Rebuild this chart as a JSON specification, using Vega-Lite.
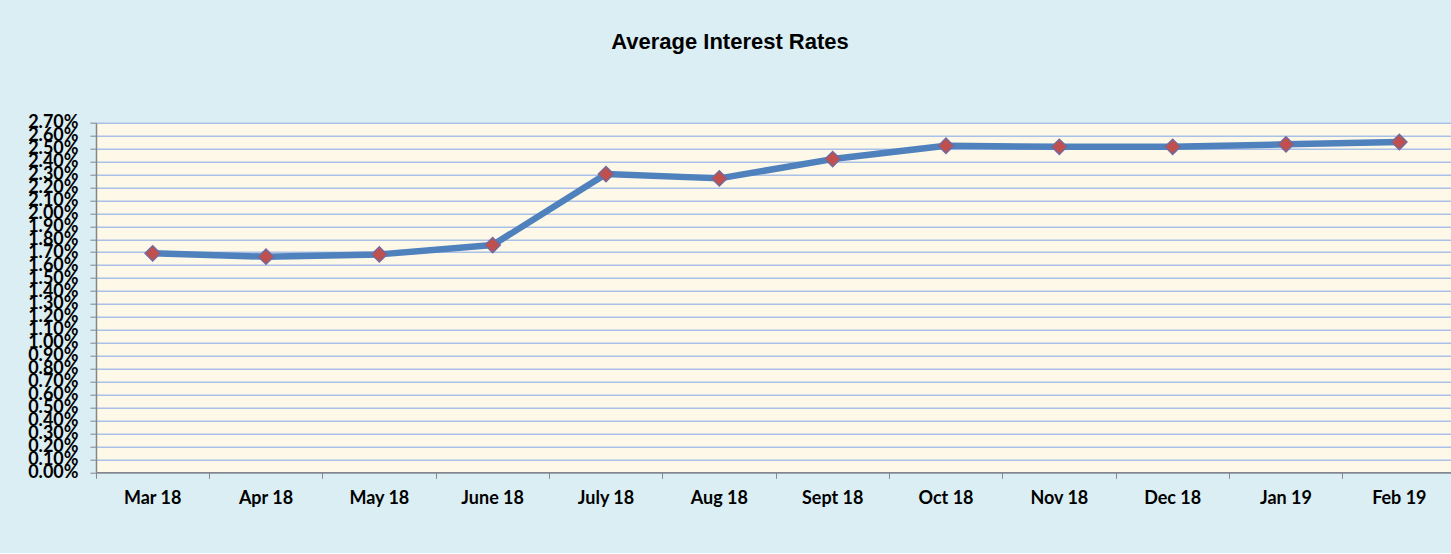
{
  "$schema": "https://vega.github.io/schema/vega-lite/v6.json",
  "autosize": {"type": "none"},
  "padding": {"left": 96, "top": 122.7, "right": 0, "bottom": 81},
  "width": 1360,
  "height": 349.6,
  "background": "#DAEEF3",
  "title": {
    "text": "Average Interest Rates",
    "font": "Liberation Sans",
    "fontSize": 22,
    "fontWeight": "bold",
    "color": "#000000",
    "anchor": "middle",
    "dx": -46,
    "offset": 60
  },
  "config": {
    "view": {"fill": "#FEF8E9", "stroke": null},
    "axis": {
      "labelFont": "Lato",
      "labelFontWeight": "bold",
      "labelColor": "#000000",
      "domainColor": "#868686",
      "tickColor": "#868686",
      "titleFontSize": 0
    }
  },
  "data": {
    "values": [
      {"month": "Mar 18", "rate": 0.01691},
      {"month": "Apr 18", "rate": 0.01665},
      {"month": "May 18", "rate": 0.01683},
      {"month": "June 18", "rate": 0.01755},
      {"month": "July 18", "rate": 0.02303},
      {"month": "Aug 18", "rate": 0.02270},
      {"month": "Sept 18", "rate": 0.02419},
      {"month": "Oct 18", "rate": 0.02522},
      {"month": "Nov 18", "rate": 0.02514},
      {"month": "Dec 18", "rate": 0.02514},
      {"month": "Jan 19", "rate": 0.02533},
      {"month": "Feb 19", "rate": 0.02551}
    ]
  },
  "encoding": {
    "x": {
      "field": "month",
      "type": "nominal",
      "sort": null,
      "scale": {"type": "band", "paddingInner": 0, "paddingOuter": 0},
      "axis": {
        "title": null,
        "labelAngle": 0,
        "labelFontSize": 18,
        "labelPadding": 11,
        "tickSize": 6,
        "bandPosition": 0,
        "labelAlign": "center",
        "grid": false,
        "domainWidth": 1.5
      }
    },
    "y": {
      "field": "rate",
      "type": "quantitative",
      "scale": {"domain": [0, 0.027], "nice": false, "zero": true},
      "axis": {
        "title": null,
        "values": [0,0.001,0.002,0.003,0.004,0.005,0.006,0.007,0.008,0.009,0.010,0.011,0.012,0.013,0.014,0.015,0.016,0.017,0.018,0.019,0.020,0.021,0.022,0.023,0.024,0.025,0.026,0.027],
        "format": ".2%",
        "labelFontSize": 18,
        "labelOverlap": false,
        "labelBound": false,
        "labelFlush": false,
        "labelPadding": 12,
        "labelBaseline": "middle",
        "tickSize": 6,
        "grid": true,
        "gridColor": "#A9C0E8",
        "gridWidth": 1.5,
        "domainWidth": 1.5
      }
    }
  },
  "layer": [
    {
      "mark": {"type": "line", "color": "#4F81BD", "strokeWidth": 6.5, "strokeJoin": "round", "strokeCap": "round"}
    },
    {
      "mark": {"type": "point", "shape": "diamond", "filled": true, "size": 230, "fill": "#C0504D", "stroke": "#77689A", "strokeWidth": 1.5, "opacity": 1}
    }
  ]
}
